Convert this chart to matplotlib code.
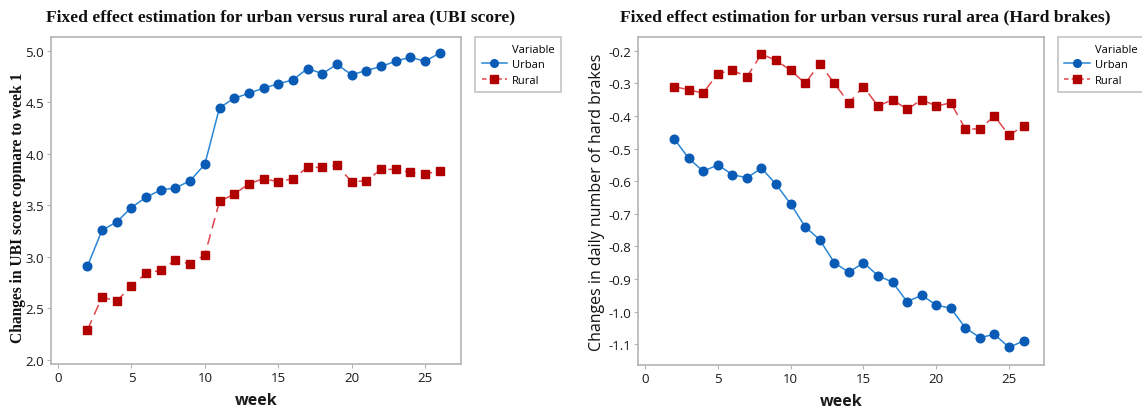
import matplotlib
matplotlib.use("Agg")
import matplotlib.pyplot as plt
from matplotlib.lines import Line2D
from matplotlib.ticker import FuncFormatter

weeks = list(range(2, 27))

ubi_urban = [2.91, 3.26, 3.34, 3.48, 3.58, 3.65, 3.67, 3.74, 3.90, 4.45, 4.54, 4.59, 4.64,
             4.68, 4.72, 4.83, 4.78, 4.87, 4.77, 4.81, 4.85, 4.90, 4.94, 4.90, 4.98]
ubi_rural = [2.29, 2.61, 2.57, 2.72, 2.84, 2.87, 2.97, 2.93, 3.02, 3.54, 3.61, 3.71, 3.76,
             3.73, 3.76, 3.87, 3.87, 3.89, 3.73, 3.74, 3.85, 3.85, 3.82, 3.81, 3.83]

hb_urban = [-0.47, -0.53, -0.57, -0.55, -0.58, -0.59, -0.56, -0.61, -0.67, -0.74, -0.78, -0.85, -0.88,
            -0.85, -0.89, -0.91, -0.97, -0.95, -0.98, -0.99, -1.05, -1.08, -1.07, -1.11, -1.09]
hb_rural = [-0.31, -0.32, -0.33, -0.27, -0.26, -0.28, -0.21, -0.23, -0.26, -0.30, -0.24, -0.30, -0.36,
            -0.31, -0.37, -0.35, -0.38, -0.35, -0.37, -0.36, -0.44, -0.44, -0.40, -0.46, -0.43]

ubi_yticks = [2.0, 2.5, 3.0, 3.5, 4.0, 4.5, 5.0]
hb_yticks = [-0.2, -0.3, -0.4, -0.5, -0.6, -0.7, -0.8, -0.9, -1.0, -1.1]
xticks = [0, 5, 10, 15, 20, 25]

titles = ["Fixed effect estimation for urban versus rural area (UBI score)",
          "Fixed effect estimation for urban versus rural area (Hard brakes)"]
ylabels = ["Changes in UBI score copmare to week 1",
           "Changes in daily number of hard brakes"]
series_names = ["Urban", "Rural"]

W, H = 1142, 414
fig = plt.figure(figsize=(W / 100, H / 100), dpi=100)
fig.patch.set_facecolor("white")

URBAN_LINE = "#2a86d6"
URBAN_MARK = "#0a5bb5"
RURAL_LINE = "#e0474c"
RURAL_MARK = "#b00000"
SPINE = "#b4b4b4"
TICKFONT = "Open Sans"


def px_axes(l, r, t, b):
    return [l / W, 1 - b / H, (r - l) / W, (b - t) / H]


ax1 = fig.add_axes(px_axes(51, 461, 38, 365))
ax2 = fig.add_axes(px_axes(638, 1044, 38, 366))

configs = [
    (ax1, ubi_urban, ubi_rural, ubi_yticks, (1.96, 5.136), (-0.48, 27.45)),
    (ax2, hb_urban, hb_rural, hb_yticks, (-1.164, -0.158), (-0.48, 27.4)),
]

for ax, urb, rur, yt, ylim, xlim in configs:
    ax.plot(weeks, urb, color=URBAN_LINE, lw=1.1, marker="o", ms=6.2,
            mfc=URBAN_MARK, mec=URBAN_MARK, zorder=3)
    ax.plot(weeks, rur, color=RURAL_LINE, lw=1.1, ls=(0, (7, 4)), marker="s", ms=6.3,
            mfc=RURAL_MARK, mec=RURAL_MARK, zorder=3)
    ax.set_xlim(*xlim)
    ax.set_ylim(*ylim)
    ax.set_xticks(xticks)
    ax.set_yticks(yt)
    ax.yaxis.set_major_formatter(FuncFormatter(lambda v, p: f"{v:.1f}".replace("\u2212", "-")))
    for s in ax.spines.values():
        s.set_color(SPINE)
        s.set_linewidth(1.2)
    ax.tick_params(axis="both", colors=SPINE, labelcolor="#1a1a1a", length=3, width=0.8,
                   labelsize=9.5, pad=2)
    for lab in ax.get_xticklabels() + ax.get_yticklabels():
        lab.set_fontfamily(TICKFONT)
    ax.set_xlabel("week", fontsize=11.5, fontweight="bold", family=TICKFONT, labelpad=6, color="#1a1a1a")

    handles = [Line2D([], [], lw=0, marker=None),
               Line2D([], [], color=URBAN_LINE, lw=1.1, marker="o", ms=5.5, mfc=URBAN_MARK, mec=URBAN_MARK),
               Line2D([], [], color=RURAL_LINE, lw=1.1, ls=(0, (3, 2)), marker="s", ms=5.5, mfc=RURAL_MARK, mec=RURAL_MARK)]
    leg = ax.legend(handles, ["Variable"] + series_names, loc="upper left",
                    bbox_to_anchor=(1.034, 1.0), borderaxespad=0, frameon=True, fancybox=False,
                    prop={"family": TICKFONT, "size": 8}, handlelength=2.3, handletextpad=0.45,
                    labelspacing=0.4, borderpad=0.6)
    leg.get_frame().set_edgecolor(SPINE)
    leg.get_frame().set_linewidth(1.2)

ax1.set_ylabel(ylabels[0], fontsize=11.2, fontweight="bold", family="Liberation Serif",
               color="#111111", va="center")
ax1.yaxis.set_label_coords(-0.080, 0.48)
ax2.set_ylabel(ylabels[1], fontsize=11.5, family=TICKFONT, color="#111111", va="center")
ax2.yaxis.set_label_coords(-0.101, 0.5)

fig.text(281 / W, 1 - 17 / H, titles[0], ha="center", va="center", fontsize=12.6,
         fontweight="bold", family="Liberation Serif", color="#111111")
fig.text(865 / W, 1 - 17 / H, titles[1], ha="center", va="center", fontsize=12.6,
         fontweight="bold", family="Liberation Serif", color="#111111")

fig.savefig("out.png", dpi=100, facecolor="white")
